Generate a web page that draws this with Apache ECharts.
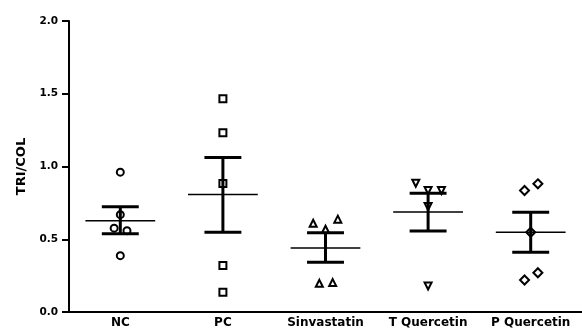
<!DOCTYPE html>
<html><head><meta charset="utf-8">
<script src="https://cdn.jsdelivr.net/npm/echarts@6/dist/echarts.min.js"></script>
<style>html,body{margin:0;padding:0;background:#fff}#c{width:582px;height:331px}</style>
</head><body><div id="c"></div>
<script>
const categories = ['NC', 'PC', 'Sinvastatin', 'T Quercetin', 'P Quercetin'];
const ncValues = [0.961, 0.669, 0.576, 0.559, 0.387];
const ncJitter = [0, 0, -0.06, 0.065, 0];
const pcValues = [1.465, 1.232, 0.883, 0.319, 0.136];
const pcJitter = [0, 0, 0, 0, 0];
const sinValues = [0.610, 0.638, 0.569, 0.197, 0.202];
const sinJitter = [-0.12, 0.12, 0, -0.06, 0.07];
const tqValues = [0.885, 0.835, 0.835, 0.725, 0.179];
const tqJitter = [-0.12, 0, 0.13, 0, 0];
const pqValues = [0.835, 0.881, 0.548, 0.220, 0.270];
const pqJitter = [-0.06, 0.07, 0, -0.06, 0.07];
const means = [0.628, 0.807, 0.440, 0.688, 0.548];
const lowers = [0.537, 0.548, 0.342, 0.557, 0.411];
const uppers = [0.724, 1.062, 0.544, 0.817, 0.686];
const yTicks = [0, 0.5, 1.0, 1.5, 2.0];

const groups = [
  {v: ncValues, j: ncJitter, sym: 'circle', rot: 0},
  {v: pcValues, j: pcJitter, sym: 'rect', rot: 0},
  {v: sinValues, j: sinJitter, sym: 'triangle', rot: 0},
  {v: tqValues, j: tqJitter, sym: 'triangle', rot: 180},
  {v: pqValues, j: pqJitter, sym: 'diamond', rot: 0}
];

const fam = 'DejaVu Sans, Liberation Sans, Arial, sans-serif';

const series = groups.map((g, gi) => ({
  type: 'scatter', xAxisIndex: 1, yAxisIndex: 0,
  symbol: g.sym, symbolRotate: g.rot, symbolSize: g.sym === 'diamond' ? 9 : 7,
  itemStyle: {color: '#fff', borderColor: '#000', borderWidth: 2, opacity: 1},
  silent: true, z: 2,
  data: g.v.map((val, i) => [gi + g.j[i], val])
}));

series.push({
  type: 'custom', xAxisIndex: 0, yAxisIndex: 0, z: 3, silent: true,
  data: categories.map((c, i) => [i, means[i], lowers[i], uppers[i]]),
  renderItem: function (params, api) {
    const x = api.value(0);
    const pm = api.coord([x, api.value(1)]);
    const pl = api.coord([x, api.value(2)]);
    const pu = api.coord([x, api.value(3)]);
    const band = api.size([1, 0])[0];
    const mw = band * 0.34, cw = band * 0.18;
    const thick = {stroke: '#000', lineWidth: 3};
    return {type: 'group', children: [
      {type: 'line', shape: {x1: pm[0] - mw, y1: pm[1], x2: pm[0] + mw, y2: pm[1]}, style: {stroke: '#000', lineWidth: 1.5}},
      {type: 'line', shape: {x1: pl[0], y1: pl[1], x2: pu[0], y2: pu[1]}, style: thick},
      {type: 'line', shape: {x1: pl[0] - cw, y1: pl[1], x2: pl[0] + cw, y2: pl[1]}, style: thick},
      {type: 'line', shape: {x1: pu[0] - cw, y1: pu[1], x2: pu[0] + cw, y2: pu[1]}, style: thick}
    ]};
  }
});

const chart = echarts.init(document.getElementById('c'), null, {renderer: 'canvas'});
chart.setOption({
  animation: false,
  backgroundColor: '#fff',
  grid: {left: 69, right: 0, top: 21, bottom: 19, containLabel: false},
  xAxis: [
    {type: 'category', data: categories, boundaryGap: true,
     axisLine: {onZero: false, lineStyle: {color: '#000', width: 2}},
     axisTick: {alignWithLabel: true, length: 5, lineStyle: {color: '#000', width: 2}},
     axisLabel: {margin: 5, interval: 0, fontFamily: fam, fontWeight: 'bold', fontSize: 12, color: '#000'},
     splitLine: {show: false}},
    {type: 'value', min: -0.5, max: 4.5, show: false, splitLine: {show: false}}
  ],
  yAxis: [{
    type: 'value', min: yTicks[0], max: yTicks[yTicks.length - 1], interval: 0.5,
    name: 'TRI/COL', nameLocation: 'middle', nameGap: 35,
    nameTextStyle: {fontFamily: fam, fontWeight: 'bold', fontSize: 13, color: '#000'},
    axisLine: {show: true, onZero: false, lineStyle: {color: '#000', width: 2}},
    axisTick: {show: true, length: 7, lineStyle: {color: '#000', width: 2}},
    axisLabel: {margin: 11, formatter: v => v.toFixed(1), fontFamily: fam, fontWeight: 'bold', fontSize: 10.5, color: '#000'},
    splitLine: {show: false}
  }],
  series: series
});
</script></body></html>
